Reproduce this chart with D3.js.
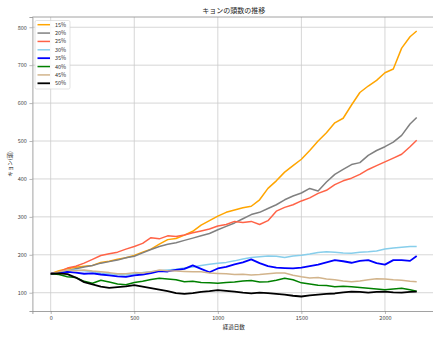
<!DOCTYPE html>
<html><head><meta charset="utf-8">
<script src="https://cdn.jsdelivr.net/npm/d3@7"></script>
<style>
body{margin:0;background:#fff;}
text{font-family:"Noto Sans CJK JP","DejaVu Sans",sans-serif;}
</style></head>
<body><svg id="c" width="433" height="338"></svg>
<script>
const days = [0,50,100,150,200,250,300,350,400,450,500,550,600,650,700,750,800,850,900,950,1000,1050,1100,1150,1200,1250,1300,1350,1400,1450,1500,1550,1600,1650,1700,1750,1800,1850,1900,1950,2000,2050,2100,2150,2190];
const s15 = [150,158,163,167,170,172,180,183,188,192,198,207,215,228,240,243,252,262,278,290,302,312,318,324,328,345,375,395,418,435,452,475,500,522,548,560,595,628,645,660,680,690,745,775,790];
const s20 = [150,152,158,163,168,172,178,182,186,192,196,205,214,222,228,232,238,244,250,256,266,275,284,295,306,312,322,332,345,355,363,375,368,392,412,425,438,443,462,475,485,497,515,545,562];
const s25 = [150,155,165,170,178,188,198,203,207,215,222,230,245,242,250,248,252,258,263,268,276,280,288,285,288,280,290,315,325,332,342,350,362,370,385,395,402,412,425,435,445,455,465,485,502];
const s30 = [150,153,158,160,158,155,152,150,148,147,150,153,155,158,160,162,165,168,172,175,178,180,184,189,193,195,197,196,193,197,199,202,206,208,207,205,204,207,208,210,215,218,220,222,222];
const s35 = [150,152,155,153,150,151,148,146,143,142,146,148,152,157,156,160,163,172,163,154,164,168,175,180,188,178,170,166,165,164,166,170,174,180,186,183,179,184,186,178,174,186,186,184,197];
const s40 = [150,148,142,140,130,125,133,128,123,121,127,130,135,138,136,134,129,130,127,126,125,127,128,131,132,128,129,133,138,134,126,123,120,119,116,117,116,114,112,110,108,110,112,108,104];
const s45 = [150,155,160,158,160,157,155,153,150,150,153,152,155,160,158,157,156,155,155,152,151,150,148,149,147,148,150,152,152,146,142,139,140,136,134,131,129,131,134,137,136,134,133,130,129];
const s50 = [150,151,149,140,128,122,116,113,115,117,120,116,112,108,104,99,97,99,102,104,107,105,103,100,98,100,99,97,95,92,90,93,95,97,98,101,103,102,100,102,103,101,100,102,103];
const seriesNames = ["15%","20%","25%","30%","35%","40%","45%","50%"];
const seriesValues = [s15,s20,s25,s30,s35,s40,s45,s50];
const seriesColors = ["#ffa500","#808080","#ff6347","#87ceeb","#0000ff","#008000","#d2b48c","#000000"];
const seriesWidths = [1.5,1.5,1.5,1.5,1.8,1.5,1.5,1.8];
const xTicks = [0,500,1000,1500,2000];
const yTicks = [100,200,300,400,500,600,700,800];

const svg = d3.select("#c");
const L = 32.4, R = 435, T = 17, B = 311;
const x = d3.scaleLinear().domain([-109.5, 2299.5]).range([L, R]);
const y = d3.scaleLinear().domain([51.8, 827]).range([B, T]);

// grid
const g = svg.append("g");
g.selectAll(".gx").data(xTicks).enter().append("line")
  .attr("x1", d=>x(d)).attr("x2", d=>x(d)).attr("y1", T).attr("y2", B)
  .attr("stroke", "#cccccc").attr("stroke-width", 0.8);
g.selectAll(".gy").data(yTicks).enter().append("line")
  .attr("x1", L).attr("x2", R).attr("y1", d=>y(d)).attr("y2", d=>y(d))
  .attr("stroke", "#cccccc").attr("stroke-width", 0.8);

// axes
const xa = svg.append("g").attr("transform", `translate(0,${B})`)
  .call(d3.axisBottom(x).tickValues(xTicks).tickSize(3).tickPadding(2.5).tickFormat(d3.format("d")));
const ya = svg.append("g").attr("transform", `translate(${L},0)`)
  .call(d3.axisLeft(y).tickValues(yTicks).tickSize(3).tickPadding(2.5).tickFormat(d3.format("d")));
[xa, ya].forEach(a => {
  a.select(".domain").attr("stroke", "#8a8a8a").attr("stroke-width", 0.8);
  a.selectAll(".tick line").attr("stroke", "#8a8a8a").attr("stroke-width", 0.6);
  a.selectAll(".tick text").attr("fill", "#444").attr("font-size", 5.5);
});
// top spine
svg.append("line").attr("x1", L).attr("x2", R).attr("y1", T).attr("y2", T)
  .attr("stroke", "#8a8a8a").attr("stroke-width", 0.8);

// lines
const line = d3.line().x((d,i)=>x(days[i])).y(d=>y(d));
seriesValues.forEach((vals, k) => {
  svg.append("path").datum(vals).attr("d", line)
    .attr("fill", "none").attr("stroke", seriesColors[k])
    .attr("stroke-width", seriesWidths[k]).attr("stroke-linejoin", "round");
});

// title and labels
svg.append("text").attr("x", (L+R)/2).attr("y", 13).attr("text-anchor", "middle")
  .attr("font-size", 7).attr("fill", "#222").text("キョンの頭数の推移");
svg.append("text").attr("x", (L+R)/2).attr("y", 329).attr("text-anchor", "middle")
  .attr("font-size", 5.5).attr("fill", "#222").text("経過日数");
svg.append("text").attr("transform", `translate(12,${(T+B)/2}) rotate(-90)`)
  .attr("text-anchor", "middle").attr("font-size", 5.5).attr("fill", "#222").text("キョン(頭)");

// legend
const lg = svg.append("g");
lg.append("rect").attr("x", 35).attr("y", 20.5).attr("width", 35).attr("height", 68.5)
  .attr("fill", "#fff").attr("fill-opacity", 0.85).attr("stroke", "#d0d0d0").attr("stroke-width", 0.6).attr("rx", 1.5);
seriesNames.forEach((n, k) => {
  const yy = 24.7 + k * 8.37;
  lg.append("line").attr("x1", 37.5).attr("x2", 50).attr("y1", yy).attr("y2", yy)
    .attr("stroke", seriesColors[k]).attr("stroke-width", seriesWidths[k]);
  lg.append("text").attr("x", 55).attr("y", yy + 2).attr("font-size", 5.5).attr("fill", "#333").text(n);
});
</script></body></html>
